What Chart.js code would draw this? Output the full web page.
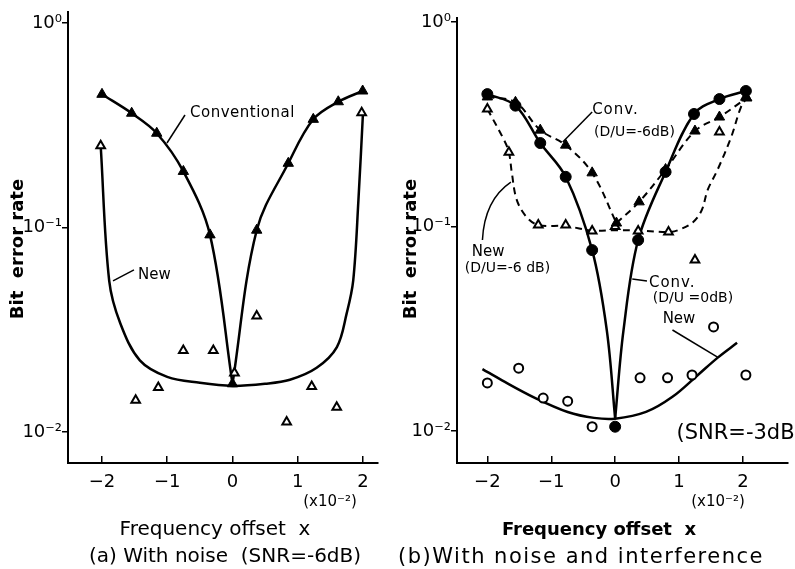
<!DOCTYPE html>
<html lang="en">
<head>
<meta charset="UTF-8">
<title>Bit error rate vs frequency offset</title>
<script src="https://cdn.jsdelivr.net/npm/chart.js"></script>
<style>
  html, body { margin: 0; padding: 0; background: #fff; }
  .painel { position: absolute; top: 0; height: 569px; }
  #painelA { left: 0; width: 395px; }
  #painelB { left: 395px; width: 400px; }
</style>
</head>
<body>
<div class="painel" id="painelA"><canvas id="chartA"></canvas></div>
<div class="painel" id="painelB"><canvas id="chartB"></canvas></div>
<script>
// eixos comuns
var xTicks = [-2, -1, 0, 1, 2];
var yTicks = [1, 0.1, 0.01];
var yTickLabels = ['10⁰', '10⁻¹', '10⁻²'];

// (a) so ruido - pontos medidos
var convAX = [-2.0, -1.545, -1.161, -0.753, -0.345, 0, 0.371, 0.855, 1.238, 1.621, 1.995];
var convAY = [0.448, 0.362, 0.289, 0.188, 0.092, 0.0172, 0.097, 0.206, 0.338, 0.412, 0.465];
var newAX = [-2.02, -1.484, -1.137, -0.754, -0.294, 0.03, 0.371, 0.83, 1.214, 1.597, 1.98];
var newAY = [0.251, 0.0143, 0.0165, 0.025, 0.025, 0.0194, 0.0369, 0.0112, 0.0167, 0.0132, 0.364];
// (a) curva "New" tracada a mao
var newACurveX = [-2.02, -1.89, -1.72, -1.42, -1.0, -0.5, 0, 0.5, 0.88, 1.29, 1.6, 1.75, 1.85, 1.93, 2.0];
var newACurveY = [0.251, 0.055, 0.034, 0.0224, 0.0186, 0.0174, 0.0168, 0.0172, 0.018, 0.0206, 0.026, 0.038, 0.055, 0.136, 0.364];

// (b) ruido + interferencia - pontos medidos
var conv0X = [-2.0, -1.56, -1.172, -0.774, -0.36, 0, 0.36, 0.789, 1.234, 1.632, 2.046];
var conv0Y = [0.444, 0.39, 0.256, 0.175, 0.0767, 0.0105, 0.0859, 0.185, 0.355, 0.42, 0.46];
var conv6X = [-2.0, -1.56, -1.172, -0.774, -0.36, 0.02, 0.375, 0.789, 1.249, 1.632, 2.06];
var conv6Y = [0.43, 0.405, 0.296, 0.25, 0.183, 0.104, 0.132, 0.19, 0.293, 0.343, 0.425];
var new6X = [-2.0, -1.663, -1.203, -0.774, -0.36, 0.0, 0.36, 0.835, 1.249, 1.632, 2.046];
var new6Y = [0.3755, 0.231, 0.1017, 0.1017, 0.0951, 0.1, 0.0951, 0.094, 0.0686, 0.29, 0.43];
var newBX = [-2.0, -1.51, -1.126, -0.743, -0.36, 0.39, 0.82, 1.203, 1.54, 2.046];
var newBY = [0.0172, 0.0203, 0.0145, 0.014, 0.0105, 0.0182, 0.0182, 0.0188, 0.0323, 0.0188];
// (b) curvas
var conv0CurveX = [-2.0, -1.56, -1.172, -0.774, -0.36, -0.13, 0, 0.13, 0.36, 0.789, 1.234, 1.632, 2.046];
var conv0CurveY = [0.444, 0.39, 0.256, 0.175, 0.0767, 0.031, 0.0115, 0.031, 0.0859, 0.185, 0.355, 0.42, 0.46];
var new6CurveX = [-2.0, -1.739, -1.663, -1.617, -1.54, -1.387, -1.203, -0.774, -0.36, 0, 0.36, 0.835, 0.989, 1.218, 1.356, 1.448, 1.601, 1.816, 1.969, 2.06];
var new6CurveY = [0.3755, 0.265, 0.231, 0.183, 0.135, 0.1113, 0.1017, 0.1005, 0.0955, 0.096, 0.0955, 0.094, 0.0961, 0.105, 0.1205, 0.151, 0.189, 0.274, 0.384, 0.425];
var newBCurveX = [-2.077, -1.77, -1.249, -0.743, -0.33, 0, 0.483, 0.897, 1.295, 1.601, 1.908];
var newBCurveY = [0.0201, 0.0177, 0.0145, 0.0124, 0.0116, 0.0115, 0.0124, 0.0147, 0.0188, 0.0228, 0.027];

var FONTE = 'DejaVu Sans';

function pts(xs, ys) {
    return xs.map(function (v, i) { return { x: v, y: ys[i] }; });
}

// divide uma curva em V no ponto mais baixo (bico agudo)
function ramos(xs, ys) {
    var i = ys.indexOf(Math.min.apply(null, ys));
    return [pts(xs.slice(0, i + 1), ys.slice(0, i + 1)), pts(xs.slice(i), ys.slice(i))];
}

function curva(data, tracejada) {
    return {
        data: data, showLine: true, pointRadius: 0, borderColor: '#000',
        borderWidth: tracejada ? 2 : 2.5, borderDash: tracejada ? [7, 5] : [],
        tension: 0.35, fill: false, order: 9
    };
}

function marcas(data, estilo, cheio, raio, ordem) {
    return {
        data: data, showLine: false, pointStyle: estilo, pointRadius: raio,
        pointBackgroundColor: cheio ? '#000' : '#fff', pointBorderColor: '#000',
        pointBorderWidth: cheio ? 1 : 2, order: ordem
    };
}

// textos e linhas de chamada
var notas = {
    id: 'notas',
    afterDraw: function (chart, args, opts) {
        var ctx = chart.ctx, sx = chart.scales.x, sy = chart.scales.y;
        function p(a) { return [sx.getPixelForValue(a[0]), sy.getPixelForValue(a[1])]; }
        ctx.save();
        ctx.fillStyle = '#000';
        ctx.strokeStyle = '#000';
        ctx.lineWidth = 1.5;
        (opts.lines || []).forEach(function (l) {
            var q = l.map(p);
            ctx.beginPath();
            ctx.moveTo(q[0][0], q[0][1]);
            if (q.length === 3) ctx.quadraticCurveTo(q[1][0], q[1][1], q[2][0], q[2][1]);
            else ctx.lineTo(q[1][0], q[1][1]);
            ctx.stroke();
        });
        (opts.labels || []).forEach(function (t) {
            ctx.font = t.font || ('15px ' + FONTE);
            ctx.letterSpacing = t.ls || '0px';
            ctx.textAlign = t.align || 'left';
            ctx.textBaseline = 'middle';
            var q = t.px ? t.px : p(t.at);
            if (t.rot) {
                ctx.save();
                ctx.translate(q[0], q[1]);
                ctx.rotate(t.rot);
                ctx.fillText(t.text, 0, 0);
                ctx.restore();
            } else {
                ctx.fillText(t.text, q[0], q[1]);
            }
        });
        ctx.restore();
    }
};

function montar(id, cfg) {
    return new Chart(document.getElementById(id), {
        type: 'scatter',
        data: { datasets: cfg.datasets },
        plugins: [notas],
        options: {
            responsive: true, maintainAspectRatio: false, animation: false, devicePixelRatio: 1,
            layout: { padding: cfg.padding },
            plugins: { legend: { display: false }, tooltip: { enabled: false }, notas: cfg.notas },
            scales: {
                x: {
                    type: 'linear', min: cfg.xmin, max: cfg.xmax,
                    afterBuildTicks: function (s) { s.ticks = xTicks.map(function (v) { return { value: v }; }); },
                    afterFit: function (s) { s.height = 40; },
                    grid: { drawOnChartArea: false, tickLength: -7, color: '#000', lineWidth: 1.5 },
                    border: { color: '#000', width: 2 },
                    ticks: {
                        color: '#000', padding: 16, font: { family: FONTE, size: 18 },
                        callback: function (v) { return v < 0 ? '−' + Math.abs(v) : '' + v; }
                    }
                },
                y: {
                    type: 'logarithmic', min: cfg.ymin, max: cfg.ymax,
                    afterBuildTicks: function (s) { s.ticks = yTicks.map(function (v) { return { value: v }; }); },
                    afterFit: function (s) { s.width = cfg.yw; },
                    grid: { drawOnChartArea: false, tickLength: 6, color: '#000', lineWidth: 1.5 },
                    border: { color: '#000', width: 2 },
                    ticks: {
                        color: '#000', padding: 0, font: { family: FONTE, size: 18 },
                        callback: function (v, i) { return yTickLabels[i]; }
                    }
                }
            }
        }
    });
}

var convA = ramos(convAX, convAY);
montar('chartA', {
    xmin: -2.521, xmax: 2.23, ymin: 0.00705, ymax: 1.132, yw: 60,
    padding: { left: 8, right: 17, top: 12, bottom: 66 },
    datasets: [
        curva(convA[0]), curva(convA[1]),
        curva(pts(newACurveX, newACurveY)),
        marcas(pts(newAX, newAY), 'triangle', false, 5, 4),
        marcas(pts(convAX, convAY), 'triangle', true, 6, 3)
    ],
    notas: {
        lines: [
            [[-0.728, 0.355], [-1.004, 0.259]],
            [[-1.51, 0.062], [-1.831, 0.0548]]
        ],
        labels: [
            { text: 'Conventional', at: [-0.651, 0.363], ls: '0.5px' },
            { text: 'New', at: [-1.448, 0.0586] },
            { text: '(x10⁻²)', px: [330, 502], align: 'center' },
            { text: 'Bit  error rate', px: [18, 249], rot: -Math.PI / 2, align: 'center', font: 'bold 18px ' + FONTE },
            { text: 'Frequency offset  x', px: [215, 530], align: 'center', font: '20px ' + FONTE },
            { text: '(a) With noise  (SNR=-6dB)', px: [225, 557], align: 'center', font: '20px ' + FONTE }
        ]
    }
});

var conv0 = ramos(conv0CurveX, conv0CurveY);
var conv6 = ramos(conv6X, conv6Y);
montar('chartB', {
    xmin: -2.475, xmax: 2.705, ymin: 0.00698, ymax: 1.046, yw: 55,
    padding: { left: 7, right: 0, top: 18, bottom: 66 },
    datasets: [
        curva(conv0[0]), curva(conv0[1]),
        curva(conv6[0], true), curva(conv6[1], true),
        curva(pts(new6CurveX, new6CurveY), true),
        curva(pts(newBCurveX, newBCurveY)),
        marcas(pts(new6X, new6Y), 'triangle', false, 5, 4),
        marcas(pts(conv6X, conv6Y), 'triangle', true, 6, 3),
        marcas(pts(newBX, newBY), 'circle', false, 4.5, 2),
        marcas(pts(conv0X, conv0Y), 'circle', true, 5.5, 1)
    ],
    notas: {
        lines: [
            [[-0.36, 0.363], [-0.82, 0.259]],
            [[-1.632, 0.165], [-2.046, 0.135], [-2.077, 0.0859]],
            [[0.268, 0.0554], [0.498, 0.0541]],
            [[0.897, 0.0312], [1.602, 0.023]]
        ],
        labels: [
            { text: 'Conv.', at: [-0.36, 0.371], ls: '1px' },
            { text: '(D/U=-6dB)', at: [-0.33, 0.29], font: '14px ' + FONTE },
            { text: 'New', at: [-2.245, 0.075] },
            { text: '(D/U=-6 dB)', at: [-2.352, 0.0627], font: '14px ' + FONTE },
            { text: 'Conv.', at: [0.529, 0.053], ls: '1px' },
            { text: '(D/U =0dB)', at: [0.59, 0.0447], font: '14px ' + FONTE },
            { text: 'New', at: [0.743, 0.0353] },
            { text: '(SNR=-3dB)', at: [0.96, 0.00977], font: '21px ' + FONTE },
            { text: '(x10⁻²)', px: [323, 502], align: 'center' },
            { text: 'Bit  error rate', px: [16, 249], rot: -Math.PI / 2, align: 'center', font: 'bold 18px ' + FONTE },
            { text: 'Frequency offset  x', px: [204, 530], align: 'center', font: 'bold 18px ' + FONTE },
            { text: '(b)With noise and interference', px: [186, 558], align: 'center', font: '21px ' + FONTE, ls: '1.5px' }
        ]
    }
});
</script>
</body>
</html>
